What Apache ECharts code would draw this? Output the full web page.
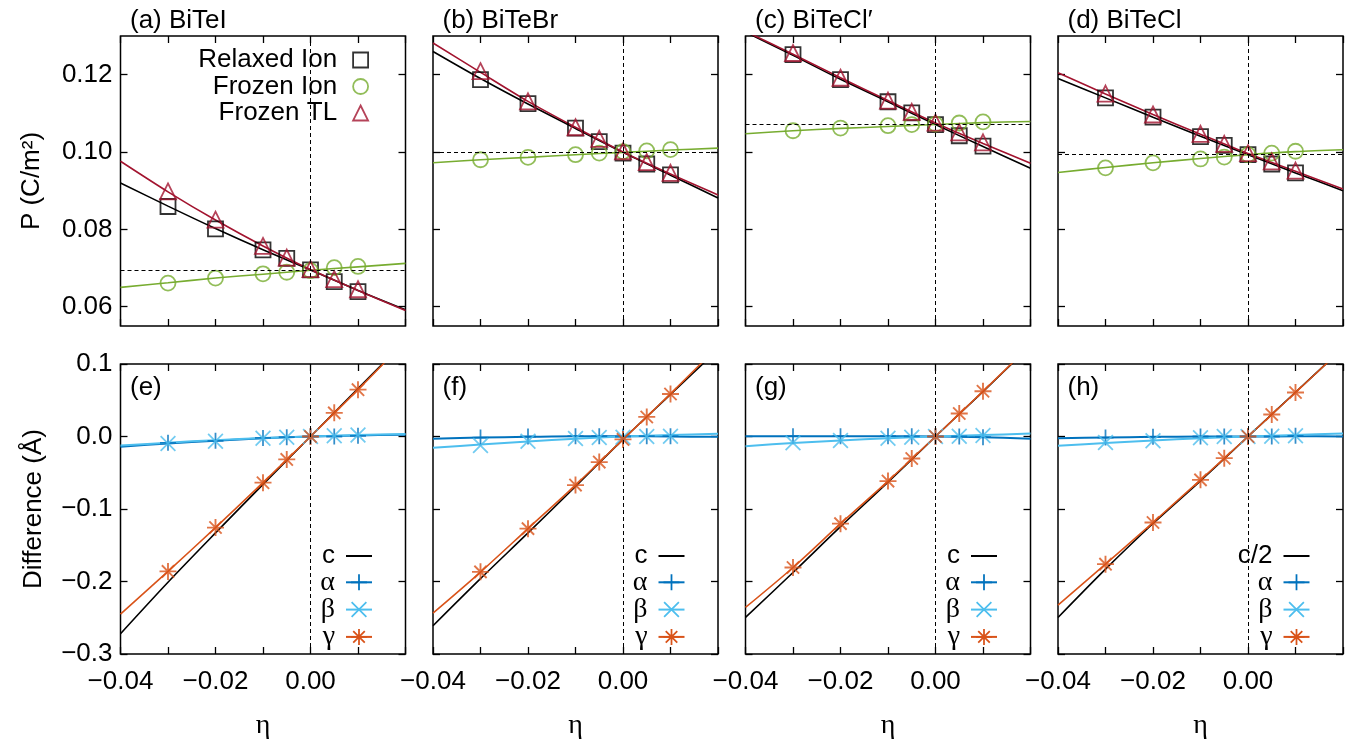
<!DOCTYPE html>
<html><head><meta charset="utf-8">
<script src="https://cdn.jsdelivr.net/npm/echarts@6/dist/echarts.min.js"></script>
<style>html,body{margin:0;padding:0;background:#fff}#chart{width:1360px;height:741px}</style>
</head><body><div id="chart"></div>
<script>
// ---------------- DATA ----------------
const etaPts = [-0.03, -0.02, -0.01, -0.005, 0, 0.005, 0.01];
const etaFit = [-0.04, -0.03, -0.02, -0.01, 0, 0.01, 0.02];
const xLabelValues = [-0.04, -0.02, 0];
const pTicks = [0.06, 0.08, 0.10, 0.12];
const upperTitles = ['(a) BiTeI', '(b) BiTeBr', '(c) BiTeCl\u2032', '(d) BiTeCl'];
const lowerTitles = ['(e)', '(f)', '(g)', '(h)'];
const lengthNames = ['c', 'c', 'c', 'c/2'];
const pRef = [0.0695, 0.0999, 0.1071, 0.0993];

// Upper panels: P (C/m^2)
const relaxedA = [0.0859, 0.0801, 0.0747, 0.0725, 0.0695, 0.0665, 0.0639];
const frozenIonA = [0.0661, 0.0674, 0.0685, 0.0689, 0.0693, 0.0701, 0.0704];
const frozenTLA = [0.0898, 0.0825, 0.0757, 0.0727, 0.0697, 0.0671, 0.0645];
const relaxedFitA = [0.0920, 0.0860, 0.0802, 0.0747, 0.0695, 0.0642, 0.0592];
const frozenIonFitA = [0.0650, 0.0662, 0.0674, 0.0684, 0.0694, 0.0703, 0.0712];
const frozenTLFitA = [0.0976, 0.0897, 0.0824, 0.0757, 0.0696, 0.0642, 0.0590];

const relaxedB = [0.1187, 0.1125, 0.1062, 0.1027, 0.0997, 0.0969, 0.0941];
const frozenIonB = [0.0980, 0.0986, 0.0993, 0.0997, 0.1001, 0.1003, 0.1006];
const frozenTLB = [0.1209, 0.1131, 0.1064, 0.1034, 0.1002, 0.0974, 0.0946];
const relaxedFitB = [0.1260, 0.1190, 0.1124, 0.1061, 0.0999, 0.0940, 0.0881];
const frozenIonFitB = [0.0972, 0.0980, 0.0986, 0.0993, 0.0999, 0.1005, 0.1010];
const frozenTLFitB = [0.1282, 0.1206, 0.1131, 0.1064, 0.1000, 0.0943, 0.0889];

const relaxedC = [0.1252, 0.1187, 0.1130, 0.1101, 0.1071, 0.1042, 0.1015];
const frozenIonC = [0.1055, 0.1062, 0.1068, 0.1071, 0.1072, 0.1075, 0.1078];
const frozenTLC = [0.1256, 0.1192, 0.1133, 0.1104, 0.1076, 0.1051, 0.1025];
const relaxedFitC = [0.1310, 0.1250, 0.1188, 0.1130, 0.1071, 0.1014, 0.0958];
const frozenIonFitC = [0.1047, 0.1055, 0.1061, 0.1066, 0.1071, 0.1076, 0.1079];
const frozenTLFitC = [0.1312, 0.1253, 0.1192, 0.1133, 0.1075, 0.1022, 0.0971];

const relaxedD = [0.1140, 0.1090, 0.1040, 0.1017, 0.0993, 0.0969, 0.0946];
const frozenIonD = [0.0959, 0.0972, 0.0982, 0.0987, 0.0993, 0.0997, 0.1002];
const frozenTLD = [0.1151, 0.1097, 0.1047, 0.1021, 0.0997, 0.0976, 0.0952];
const relaxedFitD = [0.1190, 0.1140, 0.1090, 0.1041, 0.0993, 0.0946, 0.0900];
const frozenIonFitD = [0.0947, 0.0960, 0.0972, 0.0983, 0.0993, 0.1001, 0.1006];
const frozenTLFitD = [0.1205, 0.1150, 0.1097, 0.1046, 0.0996, 0.0950, 0.0904];

// Lower panels: Difference (Å)
const alphaE = [-0.0087, -0.006, -0.002, -0.001, 0, 0, 0.001];
const betaE = [-0.0095, -0.0065, -0.0025, -0.001, 0, 0.001, 0.002];
const gammaE = [-0.1861, -0.1256, -0.0637, -0.0316, 0, 0.0326, 0.0646];
const cFitE = [-0.272, -0.201, -0.133, -0.066, 0, 0.066, 0.132];
const alphaFitE = [-0.014, -0.0095, -0.006, -0.0025, 0, 0.0015, 0.0025];
const betaFitE = [-0.0125, -0.0085, -0.005, -0.002, 0, 0.002, 0.0035];
const gammaFitE = [-0.245, -0.186, -0.1256, -0.0637, 0, 0.0646, 0.132];

const alphaF = [-0.0015, 0, 0.0005, 0.0005, 0, 0.0005, 0.0005];
const betaF = [-0.0124, -0.0064, -0.0028, -0.0014, -0.001, 0, 0.0005];
const gammaF = [-0.1867, -0.1271, -0.0670, -0.0353, -0.004, 0.027, 0.0587];
const cFitF = [-0.261, -0.196, -0.133, -0.069, -0.004, 0.058, 0.12];
const alphaFitF = [-0.003, -0.0015, -0.0005, 0.0003, 0.0003, 0, -0.0005];
const betaFitF = [-0.0156, -0.011, -0.0068, -0.0032, 0, 0.002, 0.0037];
const gammaFitF = [-0.2436, -0.187, -0.127, -0.067, -0.004, 0.059, 0.124];

const alphaG = [0.0005, 0.0005, 0.0005, 0.0003, 0, 0, -0.001];
const betaG = [-0.0087, -0.0055, -0.0023, -0.001, 0, 0.0005, 0.0014];
const gammaG = [-0.1807, -0.1202, -0.0615, -0.0303, 0, 0.0317, 0.0624];
const cFitG = [-0.2495, -0.1876, -0.1243, -0.063, 0, 0.062, 0.125];
const alphaFitG = [0.0005, 0.0005, 0.0005, 0.0003, 0, -0.001, -0.003];
const betaFitG = [-0.0133, -0.009, -0.0055, -0.0024, 0, 0.002, 0.004];
const gammaFitG = [-0.2358, -0.1807, -0.1202, -0.0615, 0, 0.0624, 0.126];

const alphaH = [-0.0014, -0.0005, 0, 0, 0, 0, 0.001];
const betaH = [-0.0083, -0.006, -0.0018, 0, 0, 0.0005, 0.001];
const gammaH = [-0.1761, -0.1186, -0.0598, -0.0299, 0, 0.0303, 0.0607];
const cFitH = [-0.2497, -0.183, -0.120, -0.0611, 0, 0.061, 0.122];
const alphaFitH = [-0.0023, -0.0013, -0.0005, 0, 0, 0.0003, 0];
const betaFitH = [-0.0129, -0.009, -0.0055, -0.0023, 0, 0.0022, 0.0041];
const gammaFitH = [-0.2326, -0.1761, -0.1186, -0.0598, 0, 0.0607, 0.122];

// ---------------- BUILD ----------------
const upper = [
  [relaxedA, frozenIonA, frozenTLA, relaxedFitA, frozenIonFitA, frozenTLFitA],
  [relaxedB, frozenIonB, frozenTLB, relaxedFitB, frozenIonFitB, frozenTLFitB],
  [relaxedC, frozenIonC, frozenTLC, relaxedFitC, frozenIonFitC, frozenTLFitC],
  [relaxedD, frozenIonD, frozenTLD, relaxedFitD, frozenIonFitD, frozenTLFitD]
];
const lower = [
  [alphaE, betaE, gammaE, cFitE, alphaFitE, betaFitE, gammaFitE],
  [alphaF, betaF, gammaF, cFitF, alphaFitF, betaFitF, gammaFitF],
  [alphaG, betaG, gammaG, cFitG, alphaFitG, betaFitG, gammaFitG],
  [alphaH, betaH, gammaH, cFitH, alphaFitH, betaFitH, gammaFitH]
];

const FONT = "'Liberation Sans', Arial, Helvetica, sans-serif";
const SERIF = "'Liberation Serif', 'DejaVu Serif', serif";
const C_BLACK = '#000000', C_GREEN = '#77AC30', C_RED = '#A2142F';
const C_A = '#0072BD', C_B = '#4DBEEE', C_G = '#D95319';

const SYM_PLUS = 'path://M8.9,0H11.1V8.9H20V11.1H11.1V20H8.9V11.1H0V8.9H8.9Z';
const SYM_CROSS = 'path://M0,1.556L1.556,0L20,18.444L18.444,20Z M18.444,0L20,1.556L1.556,20L0,18.444Z';
const SYM_STAR = 'path://M8.9,0H11.1V8.9H20V11.1H11.1V20H8.9V11.1H0V8.9H8.9Z M2,3.556L3.556,2L18,16.444L16.444,18Z M16.444,2L18,3.556L3.556,18L2,16.444Z';

const pairs = (xs, ys) => xs.map((x, i) => [x, ys[i]]);
const minus = s => s.replace('-', '\u2212');

const gridLefts = [120.5, 433, 745.5, 1058];
const gridTops = [36, 364];
const GW = 285, GH = 290;

const grids = [], xAxes = [], yAxes = [], series = [], titles = [], legends = [];
const tickStyle = {show: true, inside: true, length: 7, lineStyle: {color: '#000', width: 1.3}};
const noLine = {show: false, onZero: false};

for (let r = 0; r < 2; r++) {
  for (let c = 0; c < 4; c++) {
    const g = r * 4 + c;
    grids.push({left: gridLefts[c], top: gridTops[r], width: GW, height: GH,
      show: true, borderColor: '#000', borderWidth: 1.5, backgroundColor: 'rgba(0,0,0,0)'});
    const xb = {type: 'value', gridIndex: g, min: -0.04, max: 0.02, interval: 0.01,
      axisLine: noLine, splitLine: {show: false}, axisTick: tickStyle};
    xAxes.push(Object.assign({}, xb, {position: 'bottom',
      name: r === 1 ? 'η' : '', nameLocation: 'middle', nameGap: 58,
      nameTextStyle: {fontFamily: SERIF, fontSize: 28, color: '#000'},
      axisLabel: {show: r === 1, margin: 15, color: '#000', fontFamily: FONT, fontSize: 26,
        formatter: v => {
          const ok = xLabelValues.some(t => Math.abs(t - v) < 1e-9);
          if (!ok) return '';
          return Math.abs(v) < 1e-9 ? '0.00' : minus(v.toFixed(2));
        }}}));
    xAxes.push(Object.assign({}, xb, {position: 'top', axisLabel: {show: false}}));

    let yb;
    if (r === 0) {
      yb = {type: 'value', gridIndex: g, min: 0.055, max: 0.13,
        axisLine: noLine, splitLine: {show: false},
        axisTick: Object.assign({}, tickStyle, {customValues: pTicks})};
      yAxes.push(Object.assign({}, yb, {position: 'left',
        name: c === 0 ? 'P (C/m²)' : '', nameLocation: 'middle', nameGap: 76,
        nameTextStyle: {fontFamily: FONT, fontSize: 26, color: '#000'},
        axisLabel: {show: c === 0, customValues: pTicks, margin: 8, color: '#000', fontFamily: FONT, fontSize: 26,
          formatter: v => v.toFixed(2)}}));
      yAxes.push(Object.assign({}, yb, {position: 'right', axisLabel: {show: false, customValues: pTicks}}));
    } else {
      yb = {type: 'value', gridIndex: g, min: -0.3, max: 0.1, interval: 0.1,
        axisLine: noLine, splitLine: {show: false}, axisTick: tickStyle};
      yAxes.push(Object.assign({}, yb, {position: 'left',
        name: c === 0 ? 'Difference (Å)' : '', nameLocation: 'middle', nameGap: 74,
        nameTextStyle: {fontFamily: FONT, fontSize: 26, color: '#000'},
        axisLabel: {show: c === 0, margin: 8, color: '#000', fontFamily: FONT, fontSize: 26,
          formatter: v => Math.abs(v) < 1e-9 ? '0.0' : minus(v.toFixed(1))}}));
      yAxes.push(Object.assign({}, yb, {position: 'right', axisLabel: {show: false}}));
    }

    const ax = {xAxisIndex: 2 * g, yAxisIndex: 2 * g};
    const dash = {silent: true, precision: 6, symbol: ['none', 'none'], label: {show: false},
      lineStyle: {color: '#000', width: 1, type: [4, 3]}, emphasis: {disabled: true}};

    if (r === 0) {
      const d = upper[c];
      titles.push({text: upperTitles[c], left: gridLefts[c] + 9.5, top: 8, padding: 0,
        textStyle: {fontFamily: FONT, fontSize: 26, fontWeight: 'normal', color: '#000'}});
      const fit = (name, ys, col, extra) => Object.assign({type: 'line', name, data: pairs(etaFit, ys),
        smooth: 0.3, symbol: 'none', showSymbol: false, silent: true, z: 3,
        lineStyle: {color: col, width: 1.6}, itemStyle: {color: col}}, ax, extra || {});
      series.push(fit('Relaxed fit', d[3], C_BLACK, {markLine: Object.assign({}, dash, {data: [{xAxis: 0}, {yAxis: pRef[c]}]}), z: 2}));
      series.push(fit('Frozen Ion fit', d[4], C_GREEN));
      series.push(fit('Frozen TL fit', d[5], C_RED));
      const pts = (name, ys, sym, size, col) => Object.assign({type: 'scatter', name, data: pairs(etaPts, ys),
        symbol: sym, symbolSize: size, silent: true, z: 4,
        itemStyle: {color: 'rgba(0,0,0,0)', borderColor: col, borderWidth: 1.8}}, ax);
      series.push(pts('Relaxed Ion', d[0], 'rect', 15, C_BLACK));
      series.push(pts('Frozen Ion', d[1], 'circle', 15, C_GREEN));
      series.push(pts('Frozen TL', d[2], 'triangle', 16, C_RED));
      if (c === 0) {
        legends.push({orient: 'vertical', align: 'right', right: 1360 - (gridLefts[c] + GW - 36.5), top: 47,
          padding: 0, itemGap: 0.5, itemWidth: 15, itemHeight: 15, selectedMode: false,
          data: ['Relaxed Ion', 'Frozen Ion', 'Frozen TL'],
          itemStyle: {borderWidth: 1.8},
          textStyle: {fontFamily: FONT, fontSize: 26, color: '#000', lineHeight: 26, padding: [0, 11, 0, 0]}});
      }
    } else {
      const d = lower[c];
      titles.push({text: lowerTitles[c], left: gridLefts[c] + 9.5, top: 375, padding: 0,
        textStyle: {fontFamily: FONT, fontSize: 26, fontWeight: 'normal', color: '#000'}});
      const fit = (name, ys, col, sym, w, extra) => Object.assign({type: 'line', name, data: pairs(etaFit, ys),
        smooth: 0.3, symbol: sym, showSymbol: false, symbolKeepAspect: true, silent: true, z: 3,
        lineStyle: {color: col, width: w}, itemStyle: {color: col}}, ax, extra || {});
      series.push(fit(lengthNames[c], d[3], C_BLACK, 'none', 1.6, {markLine: Object.assign({}, dash, {data: [{xAxis: 0}]}), z: 2}));
      series.push(fit('α', d[4], C_A, SYM_PLUS, 2));
      series.push(fit('β', d[5], C_B, SYM_CROSS, 2));
      series.push(fit('γ', d[6], C_G, SYM_STAR, 1.6));
      const pts = (name, ys, sym, size, col) => Object.assign({type: 'scatter', name, data: pairs(etaPts, ys),
        symbol: sym, symbolSize: size, symbolKeepAspect: true, silent: true, z: 4,
        itemStyle: {color: col}}, ax);
      series.push(pts('α pts', d[0], SYM_PLUS, 16, C_A));
      series.push(pts('β pts', d[1], SYM_CROSS, 16, C_B));
      series.push(pts('γ pts', d[2], SYM_STAR, 17, C_G));
      legends.push({orient: 'vertical', align: 'right', right: 1360 - (gridLefts[c] + GW - 32.5), top: 543,
        padding: 0, itemGap: -0.7, itemWidth: 26, itemHeight: 20, selectedMode: false,
        data: [{name: lengthNames[c], itemStyle: {opacity: 0}}, 'α', 'β', 'γ'],
        formatter: n => /[αβγ]/.test(n) ? '{g|' + n + '}' : n,
        textStyle: {fontFamily: FONT, fontSize: 26, color: '#000', lineHeight: 26, padding: [0, 6, 0, 0],
          rich: {g: {fontFamily: SERIF, fontSize: 28, lineHeight: 26, color: '#000'}}}});
    }
  }
}

const chart = echarts.init(document.getElementById('chart'), null, {renderer: 'canvas'});
chart.setOption({
  backgroundColor: '#fff',
  animation: false,
  title: titles,
  legend: legends,
  grid: grids,
  xAxis: xAxes,
  yAxis: yAxes,
  series: series
});
</script></body></html>
